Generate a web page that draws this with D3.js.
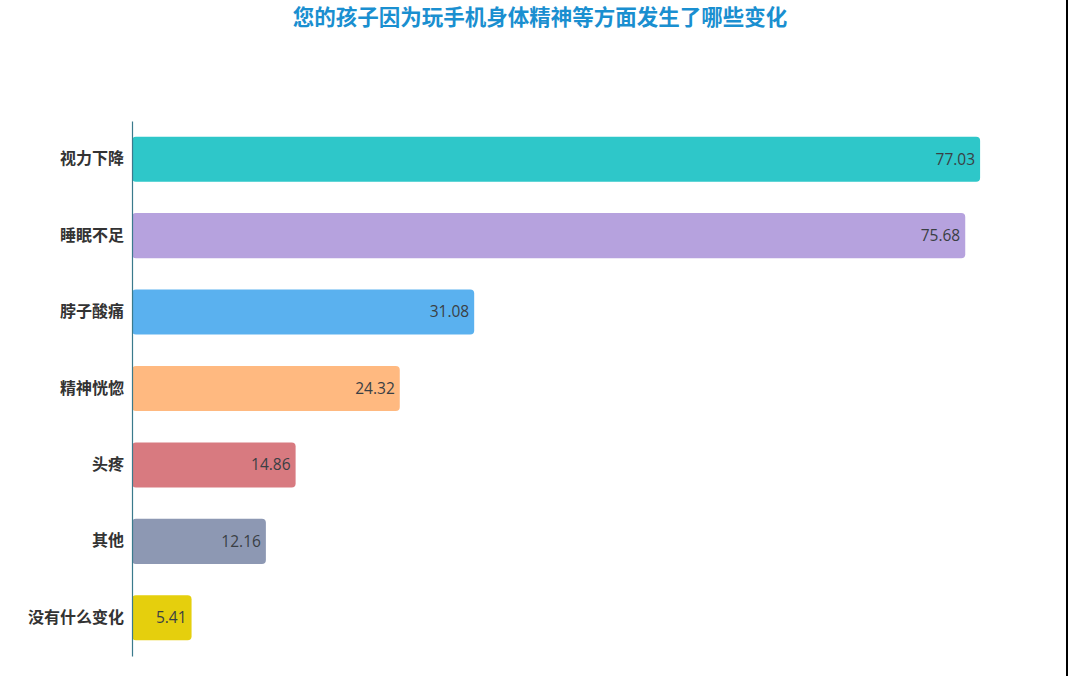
<!DOCTYPE html>
<html><head><meta charset="utf-8">
<script src="https://cdn.jsdelivr.net/npm/d3@7/dist/d3.min.js"></script>
<style>html,body{margin:0;padding:0;background:#fff;}svg{display:block;}</style>
</head><body>
<svg id="chart" width="1068" height="676"></svg>
<script>
const title = "您的孩子因为玩手机身体精神等方面发生了哪些变化";
const categories = ["视力下降","睡眠不足","脖子酸痛","精神恍惚","头疼","其他","没有什么变化"];
const values = [77.03, 75.68, 31.08, 24.32, 14.86, 12.16, 5.41];
const colors = ["#2ec7c9","#b6a2de","#5ab1ef","#ffb980","#d87a80","#8d98b3","#e5cf0d"];

const svg = d3.select("#chart");
svg.append("rect").attr("x",0).attr("y",0).attr("width",1068).attr("height",676).attr("fill","#fff");
svg.append("rect").attr("x",1066).attr("y",0).attr("width",2).attr("height",676).attr("fill","#000");

const x = d3.scaleLinear().domain([0, 80]).range([132, 132 + 880.8]);
const y = d3.scaleBand().domain(categories).range([121, 656]).paddingInner(0.41).paddingOuter(0.205);

svg.append("text").attr("x", 540).attr("y", 25).attr("text-anchor","middle")
  .attr("font-family","'Noto Sans CJK SC', sans-serif").attr("font-weight","bold")
  .attr("font-size", 21.5).attr("fill","#1a8fd0").text(title);

const g = svg.append("g");
g.selectAll("rect.bar").data(values).enter().append("rect").attr("class","bar")
  .attr("x", x(0)).attr("y", (d,i)=>y(categories[i]))
  .attr("width", d=>x(d)-x(0)).attr("height", y.bandwidth())
  .attr("rx",4).attr("ry",4).attr("fill",(d,i)=>colors[i]);

g.selectAll("text.val").data(values).enter().append("text").attr("class","val")
  .attr("x", d=>x(d)-5).attr("y",(d,i)=>y(categories[i])+y.bandwidth()/2)
  .attr("dy","0.35em").attr("text-anchor","end")
  .attr("font-family","'Open Sans', 'Noto Sans', sans-serif").attr("font-size",15.5)
  .attr("fill","#3a3f44").text(d=>d.toFixed(2));

const axis = d3.axisLeft(y).tickSize(0).tickPadding(8);
const ag = svg.append("g").attr("transform",`translate(${x(0)},0)`).call(axis);
ag.select(".domain").attr("stroke","#3a7a8c").attr("stroke-width",1.2);
ag.selectAll("text").attr("font-family","'Noto Sans CJK SC', sans-serif")
  .attr("font-weight","bold").attr("font-size",16).attr("fill","#333");
</script>
</body></html>
